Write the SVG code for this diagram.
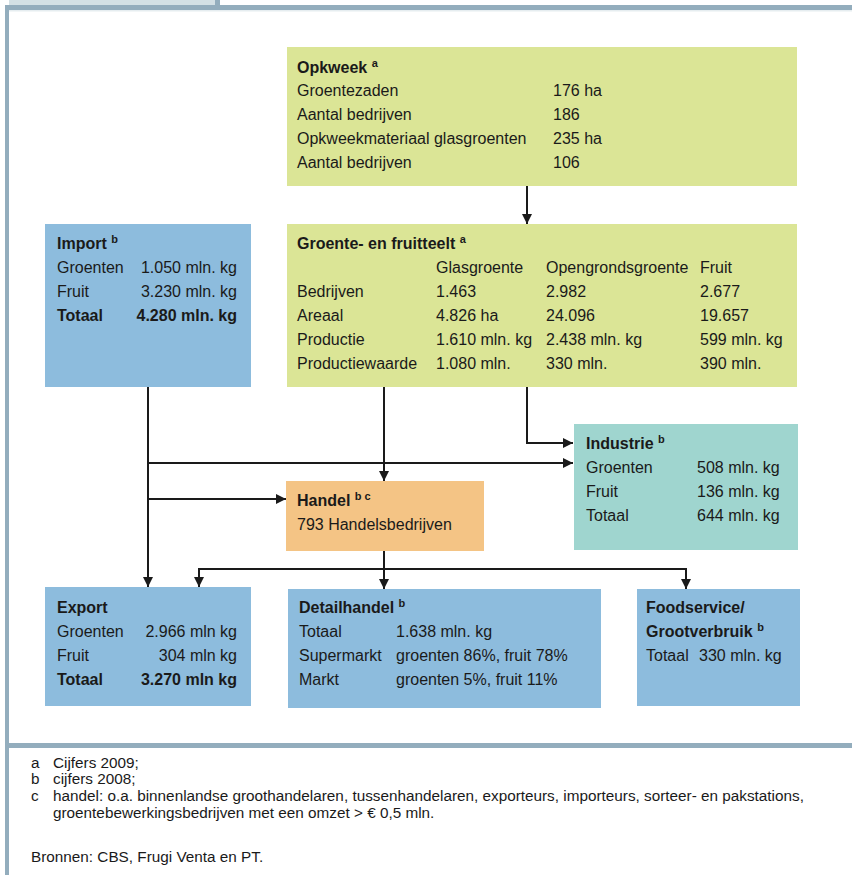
<svg xmlns="http://www.w3.org/2000/svg" width="852" height="875" viewBox="0 0 852 875">
<defs>
<style>
text{font-family:"Liberation Sans",Arial,sans-serif;font-size:16px;fill:#1a1a1a}
.b{font-weight:bold}
.sup{font-size:11px;font-weight:bold}
.end{text-anchor:end}
.fn{font-size:15.3px}
.green{fill:#dbe596}
.blue{fill:#8dbcdd}
.teal{fill:#9fd5cf}
.orange{fill:#f4c485}
.frame{fill:#93adbd}
.conn{fill:none;stroke:#1a1a1a;stroke-width:2}
</style>
<marker id="ah" viewBox="0 0 10 10" refX="10" refY="5" markerWidth="10" markerHeight="10" markerUnits="userSpaceOnUse" orient="auto">
<path d="M0,0 L10,5 L0,10 z" fill="#1a1a1a"/>
</marker>
</defs>
<rect width="852" height="875" fill="#ffffff"/>
<g id="frame">
<rect x="9" y="0" width="206" height="5" fill="#d3e0e5"/>
<rect class="frame" x="215" y="0" width="5" height="6"/>
<rect class="frame" x="5" y="5" width="847" height="5"/>
<rect x="9" y="10" width="843" height="1.5" fill="#e6edf0"/>
<rect class="frame" x="5" y="5" width="4" height="870"/>
<rect class="frame" x="5" y="743" width="847" height="5"/>
</g>
<g id="connectors">
<path class="conn" d="M527,186 V224" marker-end="url(#ah)"/>
<path class="conn" d="M148,387 V587" marker-end="url(#ah)"/>
<path class="conn" d="M148,463 H573" marker-end="url(#ah)"/>
<path class="conn" d="M148,499 H286" marker-end="url(#ah)"/>
<path class="conn" d="M384,387 V481" marker-end="url(#ah)"/>
<path class="conn" d="M527,387 V443 H573" marker-end="url(#ah)"/>
<path class="conn" d="M384,551 V589" marker-end="url(#ah)"/>
<path class="conn" d="M384,569 H199 V587" marker-end="url(#ah)"/>
<path class="conn" d="M384,569 H686 V589" marker-end="url(#ah)"/>
</g>
<g id="opkweek">
<rect class="green" x="287" y="47" width="510" height="139"/>
<text x="297" y="73" class="b">Opkweek <tspan class="sup" dy="-6">a</tspan></text>
<text x="297" y="96">Groentezaden</text><text x="553" y="96">176 ha</text>
<text x="297" y="120">Aantal bedrijven</text><text x="553" y="120">186</text>
<text x="297" y="144">Opkweekmateriaal glasgroenten</text><text x="553" y="144">235 ha</text>
<text x="297" y="168">Aantal bedrijven</text><text x="553" y="168">106</text>
</g>
<g id="import">
<rect class="blue" x="45" y="224" width="206" height="163"/>
<text x="57" y="249" class="b">Import <tspan class="sup" dy="-6">b</tspan></text>
<text x="57" y="273">Groenten</text><text x="237" y="273" class="end">1.050 mln. kg</text>
<text x="57" y="297">Fruit</text><text x="237" y="297" class="end">3.230 mln. kg</text>
<text x="57" y="321" class="b">Totaal</text><text x="237" y="321" class="end b">4.280 mln. kg</text>
</g>
<g id="teelt">
<rect class="green" x="287" y="224" width="510" height="163"/>
<text x="297" y="249" class="b">Groente- en fruitteelt <tspan class="sup" dy="-6">a</tspan></text>
<text x="436" y="273">Glasgroente</text><text x="546" y="273">Opengrondsgroente</text><text x="700" y="273">Fruit</text>
<text x="297" y="297">Bedrijven</text><text x="436" y="297">1.463</text><text x="546" y="297">2.982</text><text x="700" y="297">2.677</text>
<text x="297" y="321">Areaal</text><text x="436" y="321">4.826 ha</text><text x="546" y="321">24.096</text><text x="700" y="321">19.657</text>
<text x="297" y="345">Productie</text><text x="436" y="345">1.610 mln. kg</text><text x="546" y="345">2.438 mln. kg</text><text x="700" y="345">599 mln. kg</text>
<text x="297" y="369">Productiewaarde</text><text x="436" y="369">1.080 mln.</text><text x="546" y="369">330 mln.</text><text x="700" y="369">390 mln.</text>
</g>
<g id="industrie">
<rect class="teal" x="574" y="424" width="224" height="126"/>
<text x="586" y="449" class="b">Industrie <tspan class="sup" dy="-6">b</tspan></text>
<text x="586" y="473">Groenten</text><text x="697" y="473">508 mln. kg</text>
<text x="586" y="497">Fruit</text><text x="697" y="497">136 mln. kg</text>
<text x="586" y="521">Totaal</text><text x="697" y="521">644 mln. kg</text>
</g>
<g id="handel">
<rect class="orange" x="286" y="481" width="198" height="70"/>
<text x="297" y="506" class="b">Handel <tspan class="sup" dy="-6">b c</tspan></text>
<text x="297" y="530">793 Handelsbedrijven</text>
</g>
<g id="export">
<rect class="blue" x="45" y="587" width="206" height="119"/>
<text x="57" y="613" class="b">Export</text>
<text x="57" y="637">Groenten</text><text x="237" y="637" class="end">2.966 mln kg</text>
<text x="57" y="661">Fruit</text><text x="237" y="661" class="end">304 mln kg</text>
<text x="57" y="685" class="b">Totaal</text><text x="237" y="685" class="end b">3.270 mln kg</text>
</g>
<g id="detailhandel">
<rect class="blue" x="288" y="589" width="313" height="119"/>
<text x="299" y="613" class="b">Detailhandel <tspan class="sup" dy="-6">b</tspan></text>
<text x="299" y="637">Totaal</text><text x="396" y="637">1.638 mln. kg</text>
<text x="299" y="661">Supermarkt</text><text x="396" y="661">groenten 86%, fruit 78%</text>
<text x="299" y="685">Markt</text><text x="396" y="685">groenten 5%, fruit 11%</text>
</g>
<g id="foodservice">
<rect class="blue" x="637" y="589" width="163" height="117"/>
<text x="646" y="613" class="b">Foodservice/</text>
<text x="646" y="637" class="b">Grootverbruik <tspan class="sup" dy="-6">b</tspan></text>
<text x="646" y="661">Totaal</text><text x="699" y="661">330 mln. kg</text>
</g>
<g id="footnotes">
<text x="31" y="768" class="fn">a</text><text x="53" y="768" class="fn">Cijfers 2009;</text>
<text x="31" y="784" class="fn">b</text><text x="53" y="784" class="fn">cijfers 2008;</text>
<text x="31" y="801" class="fn">c</text><text x="53" y="801" class="fn">handel: o.a. binnenlandse groothandelaren, tussenhandelaren, exporteurs, importeurs, sorteer- en pakstations,</text>
<text x="53" y="818" class="fn">groentebewerkingsbedrijven met een omzet &gt; € 0,5 mln.</text>
<text x="31" y="862" class="fn">Bronnen: CBS, Frugi Venta en PT.</text>
</g>
</svg>
